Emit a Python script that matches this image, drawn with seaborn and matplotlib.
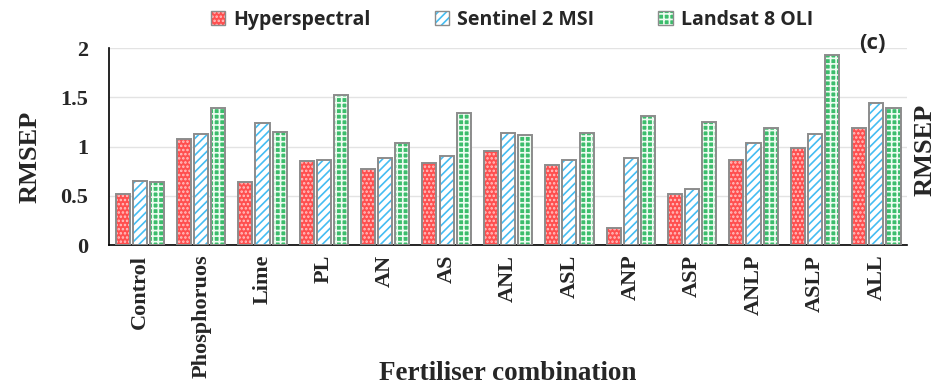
import matplotlib
matplotlib.use("Agg")
import matplotlib.pyplot as plt
from matplotlib.patches import Rectangle
from matplotlib.ticker import FuncFormatter
import seaborn as sns
import pandas as pd

categories = ["Control", "Phosphoruos", "Lime", "PL", "AN", "AS", "ANL",
              "ASL", "ANP", "ASP", "ANLP", "ASLP", "ALL"]
hyperspectral = [0.52, 1.08, 0.64, 0.85, 0.77, 0.835, 0.95,
                 0.81, 0.17, 0.52, 0.865, 0.985, 1.185]
sentinel2 = [0.65, 1.13, 1.235, 0.865, 0.88, 0.90, 1.135,
             0.86, 0.88, 0.57, 1.04, 1.125, 1.445]
landsat8 = [0.64, 1.39, 1.15, 1.525, 1.04, 1.34, 1.12,
            1.14, 1.31, 1.25, 1.19, 1.93, 1.39]
series_names = ["Hyperspectral", "Sentinel 2 MSI", "Landsat 8 OLI"]

df = pd.DataFrame({
    "Fertiliser combination": categories * 3,
    "RMSEP": hyperspectral + sentinel2 + landsat8,
    "Sensor": [s for s in series_names for _ in categories],
})

# face colour, hatch colour, hatch pattern per sensor
styles = {
    "Hyperspectral": ("#ff4f4f", "#ffc4c4", "...."),
    "Sentinel 2 MSI": ("#ffffff", "#45bdf2", "////"),
    "Landsat 8 OLI": ("#3cbd6c", "#eefcf1", "+++"),
}
edge_grey = "#8c8c8c"

sns.set_style("white")
plt.rcParams["hatch.linewidth"] = 1.2
serif = ["Liberation Serif", "DejaVu Serif"]
sans = ["Open Sans", "DejaVu Sans"]

fig = plt.figure(figsize=(9.36, 3.85), dpi=100)
ax = fig.add_axes([0.1165, 0.3636, 0.8525, 0.5114])

sns.barplot(data=df, x="Fertiliser combination", y="RMSEP", hue="Sensor",
            hue_order=series_names, order=categories, width=0.84, gap=0.18,
            palette=[styles[s][0] for s in series_names], legend=False,
            saturation=1, ax=ax, zorder=2)

# apply hatching (in hatch colour) and a grey outline drawn on top
for container, name in zip(ax.containers, series_names):
    face, hcol, hatch = styles[name]
    for bar in container:
        bar.set_facecolor(face)
        bar.set_edgecolor(hcol)
        bar.set_hatch(hatch)
        bar.set_linewidth(0)
        ax.add_patch(Rectangle(bar.get_xy(), bar.get_width(), bar.get_height(),
                               fill=False, edgecolor=edge_grey, linewidth=1.4,
                               zorder=3))

ax.set_ylim(0, 2)
ax.set_yticks([0, 0.5, 1, 1.5, 2])
ax.yaxis.set_major_formatter(FuncFormatter(lambda v, p: f"{v:g}"))
ax.grid(axis="y", color="#e3e3e3", linewidth=1.0, zorder=0)
ax.set_axisbelow(True)
for side in ["top", "right"]:
    ax.spines[side].set_visible(False)
ax.spines["left"].set_color("black")
ax.spines["bottom"].set_color("black")
ax.spines["left"].set_linewidth(1.2)
ax.spines["bottom"].set_linewidth(1.2)
ax.tick_params(axis="y", length=0, pad=15)
ax.tick_params(axis="x", length=0, pad=7)

for lbl in ax.get_yticklabels():
    lbl.set_family(serif)
    lbl.set_fontweight("bold")
    lbl.set_fontsize(16)
ax.set_xticks(range(len(categories)))
ax.set_xticklabels(categories, rotation=90, family=serif, fontweight="bold",
                   fontsize=16)

ax.set_ylabel("RMSEP", family=serif, fontweight="bold", fontsize=19)
ax.yaxis.set_label_coords(-0.084, 0.45)
ax.set_xlabel("Fertiliser combination", family=serif, fontweight="bold",
              fontsize=19.5)
ax.xaxis.set_label_coords(0.5, -0.59)

fig.text(0.988, 0.61, "RMSEP", rotation=90, ha="center", va="center",
         family=serif, fontweight="bold", fontsize=19)
fig.text(0.932, 0.888, "(c)", ha="center", va="center", family=sans,
         fontweight="bold", fontsize=16)

handles = [Rectangle((0, 0), 1, 1, facecolor=styles[s][0], edgecolor=styles[s][1],
                     hatch=styles[s][2], linewidth=0) for s in series_names]
leg = fig.legend(handles, series_names, loc="center", ncol=3,
                 bbox_to_anchor=(0.547, 0.948), frameon=False,
                 handlelength=0.75, handleheight=0.75, handletextpad=0.4,
                 columnspacing=3.3, prop={"family": sans, "weight": "bold",
                                          "size": 14})
# grey outline around each legend swatch
for h in leg.legend_handles:
    h.set_edgecolor(edge_grey)
    h.set_linewidth(1.0)
for h, s in zip(leg.legend_handles, series_names):
    h._hatch_color = matplotlib.colors.to_rgba(styles[s][1])

fig.savefig("out.png", dpi=100)
